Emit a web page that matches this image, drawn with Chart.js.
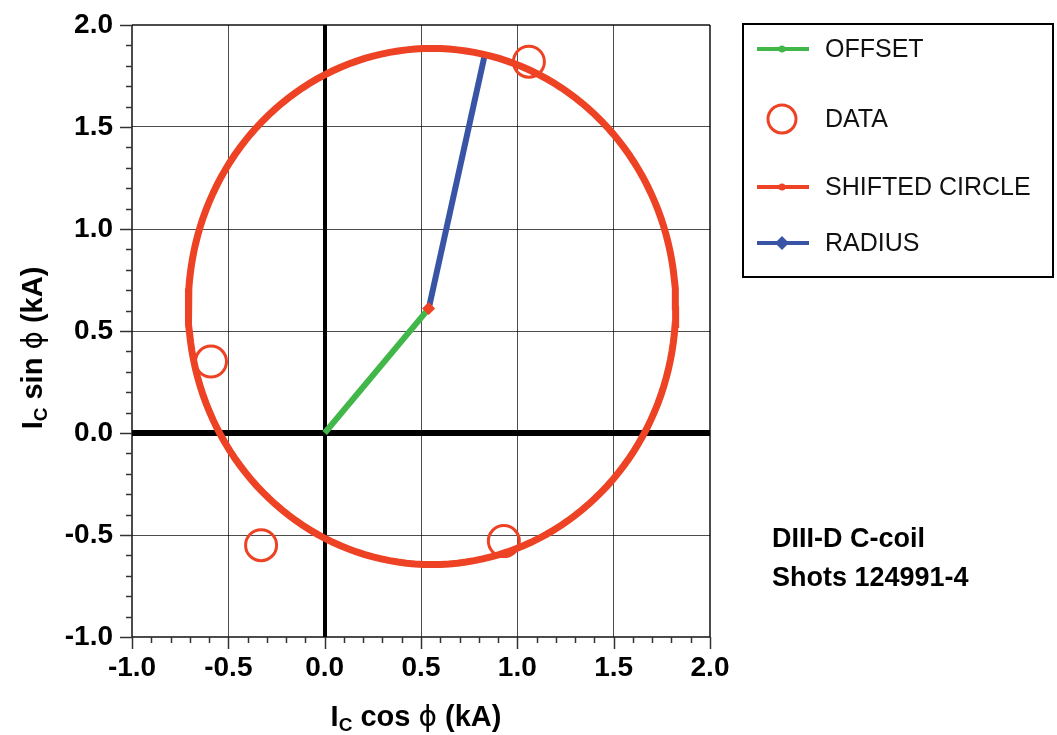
<!DOCTYPE html>
<html>
<head>
<meta charset="utf-8">
<script src="https://cdn.jsdelivr.net/npm/chart.js@4.4.0/dist/chart.umd.min.js"></script>
<style>
body { margin: 0; background: #fff; }
#wrap { width: 1057px; height: 735px; position: relative; }
</style>
</head>
<body>
<div id="wrap"><canvas id="myChart"></canvas></div>
<script>
// measured points (kA)
var dataX = [1.06, -0.59, -0.33, 0.93];
var dataY = [1.82, 0.35, -0.55, -0.53];
var offsetX = [0, 0.54];
var offsetY = [0, 0.61];
var radiusX = [0.54, 0.83];
var radiusY = [0.61, 1.85];
var circleCenter = [0.557, 0.62];
var circleRadius = 1.265;
var xRange = [-1.0, 2.0];
var yRange = [-1.0, 2.0];
var majorStep = 0.5, minorStep = 0.1;
var legendLabels = ['OFFSET', 'DATA', 'SHIFTED CIRCLE', 'RADIUS'];
var noteLines = ['DIII-D C-coil', 'Shots 124991-4'];

var red = '#ee4224', green = '#41b649', blue = '#3a54a5';
var tickFont = '"Liberation Sans Narrow", "Liberation Sans", Arial, sans-serif';

function pts(xs, ys) {
  return xs.map(function (x, i) { return { x: x, y: ys[i] }; });
}
var circlePts = [];
for (var a = 0; a <= 360; a += 2) {
  var t = a * Math.PI / 180;
  circlePts.push({ x: circleCenter[0] + circleRadius * Math.cos(t), y: circleCenter[1] + circleRadius * Math.sin(t) });
}

function isMajor(v) {
  return Math.abs(v / majorStep - Math.round(v / majorStep)) < 1e-6;
}
function gridColor(c) {
  var v = c.tick.value;
  if (Math.abs(v) < 1e-9) return '#000';
  if (isMajor(v)) return 'rgba(0,0,0,0.7)';
  return 'rgba(0,0,0,0)';
}
function gridWidth(range, zeroW) {
  return function (c) {
    var v = c.tick.value;
    if (Math.abs(v) < 1e-9) return zeroW;
    if (Math.abs(v - range[0]) < 1e-9 || Math.abs(v - range[1]) < 1e-9) return 2;
    return 1;
  };
}
function label(v) {
  if (!isMajor(v)) return '';
  if (Math.abs(v) < 1e-9) v = 0;
  return v.toFixed(1);
}

function drawPieces(ctx, pieces, cx, y) {
  var w = 0;
  pieces.forEach(function (p) { ctx.font = p.f; w += ctx.measureText(p.t).width; });
  var x = cx - w / 2;
  pieces.forEach(function (p) {
    ctx.font = p.f;
    ctx.fillText(p.t, x, y + (p.dy || 0));
    x += ctx.measureText(p.t).width;
  });
}
function titlePieces(word) {
  var big = 'bold 29px ' + tickFont;
  return [
    { t: 'I', f: big },
    { t: 'C', f: 'bold 19px ' + tickFont, dy: 5 },
    { t: ' ' + word + ' ', f: big },
    { t: '\u03D5', f: '28px "DejaVu Sans", "Liberation Sans", sans-serif' },
    { t: ' (kA)', f: big }
  ];
}

var extras = {
  id: 'extras',
  afterDraw: function (chart) {
    var ctx = chart.ctx, area = chart.chartArea;
    var xs = chart.scales.x, ys = chart.scales.y;
    ctx.save();
    // tick marks
    ctx.strokeStyle = '#333';
    ctx.lineWidth = 1.5;
    for (var i = 0; i <= 30; i++) {
      var v = yRange[0] + i * minorStep;
      var len = isMajor(v) ? 12 : 6;
      var py = Math.round(ys.getPixelForValue(v)) + 0.5;
      ctx.beginPath(); ctx.moveTo(area.left - len, py); ctx.lineTo(area.left, py); ctx.stroke();
      var vx = xRange[0] + i * minorStep;
      var lx = isMajor(vx) ? 12 : 6;
      var px = Math.round(xs.getPixelForValue(vx)) + 0.5;
      ctx.beginPath(); ctx.moveTo(px, area.bottom); ctx.lineTo(px, area.bottom + lx); ctx.stroke();
    }
    // axis titles
    ctx.fillStyle = '#000';
    ctx.textBaseline = 'alphabetic';
    ctx.textAlign = 'left';
    drawPieces(ctx, titlePieces('cos'), 416, 726);
    ctx.save();
    ctx.translate(42, 348);
    ctx.rotate(-Math.PI / 2);
    drawPieces(ctx, titlePieces('sin'), 0, 0);
    ctx.restore();

    // legend box
    ctx.strokeStyle = '#000';
    ctx.lineWidth = 2;
    ctx.strokeRect(743, 24, 310, 253);
    var rows = [49, 119, 187, 243];
    var mx = 782;
    function lineMark(y, col) {
      ctx.strokeStyle = col; ctx.lineWidth = 4;
      ctx.beginPath(); ctx.moveTo(757, y); ctx.lineTo(809, y); ctx.stroke();
    }
    lineMark(rows[0], green);
    ctx.fillStyle = green; ctx.beginPath(); ctx.arc(mx, rows[0], 3.5, 0, 2 * Math.PI); ctx.fill();
    ctx.strokeStyle = red; ctx.lineWidth = 3;
    ctx.beginPath(); ctx.arc(mx, rows[1], 14, 0, 2 * Math.PI); ctx.stroke();
    lineMark(rows[2], red);
    ctx.fillStyle = red; ctx.beginPath(); ctx.arc(mx, rows[2], 3.5, 0, 2 * Math.PI); ctx.fill();
    lineMark(rows[3], blue);
    ctx.fillStyle = blue; ctx.beginPath();
    ctx.moveTo(mx, rows[3] - 7); ctx.lineTo(mx + 7, rows[3]); ctx.lineTo(mx, rows[3] + 7); ctx.lineTo(mx - 7, rows[3]);
    ctx.closePath(); ctx.fill();
    ctx.fillStyle = '#111';
    ctx.font = '25px "Liberation Sans", Arial, sans-serif';
    ctx.textBaseline = 'middle';
    legendLabels.forEach(function (s, k) { ctx.fillText(s, 825, rows[k] + 1); });

    // note
    ctx.textBaseline = 'alphabetic';
    ctx.fillStyle = '#000';
    ctx.font = 'bold 27px "Liberation Sans", Arial, sans-serif';
    ctx.fillText(noteLines[0], 772, 547);
    ctx.fillText(noteLines[1], 772, 586);
    ctx.restore();
  }
};

var ctx = document.getElementById('myChart').getContext('2d');
var myChart = new Chart(ctx, {
  type: 'scatter',
  data: {
    datasets: [
      {
        label: 'DATA',
        data: pts(dataX, dataY),
        pointRadius: 15.5,
        pointBorderWidth: 3,
        borderColor: red,
        backgroundColor: 'rgba(0,0,0,0)',
        showLine: false,
        order: 0
      },
      {
        label: 'SHIFTED CIRCLE',
        data: circlePts,
        showLine: true,
        borderColor: red,
        borderWidth: 7,
        pointRadius: 0,
        order: 1
      },
      {
        label: 'CENTER',
        data: [{ x: offsetX[1], y: offsetY[1] }],
        pointStyle: 'rectRot',
        pointRadius: 6,
        backgroundColor: red,
        borderColor: red,
        order: 0
      },
      {
        label: 'RADIUS',
        data: pts(radiusX, radiusY),
        showLine: true,
        borderColor: blue,
        borderWidth: 6,
        pointRadius: 0,
        order: 2
      },
      {
        label: 'OFFSET',
        data: pts(offsetX, offsetY),
        showLine: true,
        borderColor: green,
        borderWidth: 6,
        pointRadius: 0,
        order: 3
      }
    ]
  },
  options: {
    responsive: true,
    maintainAspectRatio: false,
    animation: false,
    events: [],
    layout: { padding: { top: 25, right: 347, left: 0, bottom: 0 } },
    plugins: { legend: { display: false }, tooltip: { enabled: false } },
    scales: {
      x: {
        type: 'linear',
        min: xRange[0], max: xRange[1],
        afterFit: function (s) { s.height = 98; s.paddingLeft = 0; s.paddingRight = 0; },
        border: { display: false },
        grid: { color: gridColor, lineWidth: gridWidth(xRange, 4), drawTicks: false },
        ticks: {
          stepSize: minorStep, autoSkip: false, maxRotation: 0,
          padding: 14, color: '#000',
          font: { family: tickFont, size: 28, weight: 'bold' },
          callback: label
        }
      },
      y: {
        type: 'linear',
        min: yRange[0], max: yRange[1],
        afterFit: function (s) { s.width = 132; s.paddingTop = 0; s.paddingBottom = 0; },
        border: { display: false },
        grid: { color: gridColor, lineWidth: gridWidth(yRange, 6), drawTicks: false },
        ticks: {
          stepSize: minorStep, autoSkip: false,
          padding: 19, color: '#000',
          font: { family: tickFont, size: 28, weight: 'bold' },
          callback: label
        }
      }
    }
  },
  plugins: [extras]
});
</script>
</body>
</html>
